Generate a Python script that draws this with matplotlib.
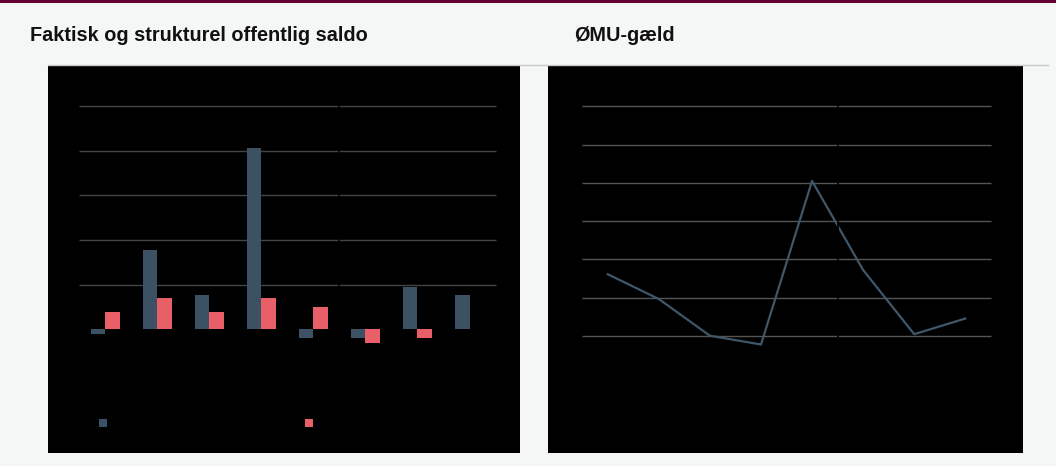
import matplotlib
matplotlib.use('Agg')
import matplotlib.pyplot as plt
import numpy as np

# Data
categories = ['1', '2', '3', '4', '5', '6', '7', '8']
faktisk = [-0.11, 1.78, 0.76, 4.06, -0.19, -0.20, 0.96, 0.76]
strukturel = [0.40, 0.70, 0.40, 0.70, 0.49, -0.31, -0.20, np.nan]
saldo_grid = [1, 2, 3, 4, 5]

gaeld = [1.61, 0.96, 0.00, -0.23, 4.05, 1.72, 0.04, 0.45]
gaeld_grid = [0, 1, 2, 3, 4, 5, 6]

W, H = 1056, 466
BG = '#f5f7f7'
DARK = '#3c5264'
RED = '#e95f67'

plt.rcParams['font.family'] = ['Liberation Sans', 'DejaVu Sans']

fig = plt.figure(figsize=(W / 100, H / 100), dpi=100, facecolor=BG)


def px_rect(x0, y0, x1, y1):
    return [x0 / W, 1 - y1 / H, (x1 - x0) / W, (y1 - y0) / H]


# top maroon strip and separator line
fig.add_artist(plt.Rectangle((0, 1 - 3 / H), 1, 3 / H, transform=fig.transFigure,
                             color='#640032', lw=0))
fig.add_artist(plt.Line2D([48 / W, 1048 / W], [1 - 65 / H, 1 - 65 / H],
                          transform=fig.transFigure, color='#c8c8c8', lw=1))

fig.text(30 / W, 1 - 41 / H, 'Faktisk og strukturel offentlig saldo',
         fontsize=14.3, fontweight='bold', va='baseline', ha='left', color='#111111')
fig.text(574 / W, 1 - 41 / H, 'ØMU-gæld',
         fontsize=14.3, fontweight='bold', va='baseline', ha='left', color='#111111')


def style_panel(ax):
    ax.set_facecolor('black')
    for s in ax.spines.values():
        s.set_visible(False)
    ax.set_xticks([])
    ax.set_yticks([])


######################################################################
# Left: bars
######################################################################
ax1 = fig.add_axes(px_rect(48, 66, 520, 453))
style_panel(ax1)
x = np.arange(len(categories))
bw = 0.28
ax1.hlines(saldo_grid, -0.5, len(categories) - 0.5, color='#444444', lw=1, zorder=1)
b1 = ax1.bar(x - bw / 2, faktisk, bw, color=DARK, zorder=2, label='Faktisk saldo')
b2 = ax1.bar(x + bw / 2, strukturel, bw, color=RED, zorder=2, label='Strukturel saldo')
ax1.axvline(4.5, color='black', lw=1.2, zorder=3)
ax1.set_xlim(-1.10, 7.97)
ax1.set_ylim(-2.77, 5.90)

leg_kw = dict(loc='center left', frameon=False, borderpad=0, borderaxespad=0,
              fontsize=8, handlelength=0.75, handleheight=0.75,
              labelcolor='black')
leg1 = ax1.legend(handles=[b1], bbox_to_anchor=(0.108, 0.075), **leg_kw)
ax1.add_artist(leg1)
ax1.legend(handles=[b2], bbox_to_anchor=(0.544, 0.075), **leg_kw)

######################################################################
# Right: line
######################################################################
ax2 = fig.add_axes(px_rect(548, 66, 1023, 453))
style_panel(ax2)
x2 = np.arange(len(gaeld))
ax2.hlines(gaeld_grid, -0.5, len(gaeld) - 0.5, color='#555555', lw=1, zorder=1)
ax2.plot(x2, gaeld, color='#3f5769', lw=1.6, zorder=2)
ax2.axvline(4.5, color='black', lw=1.2, zorder=3)
ax2.set_xlim(-1.17, 8.13)
ax2.set_ylim(-3.07, 7.06)

fig.savefig('out.png', dpi=100, facecolor=BG)
